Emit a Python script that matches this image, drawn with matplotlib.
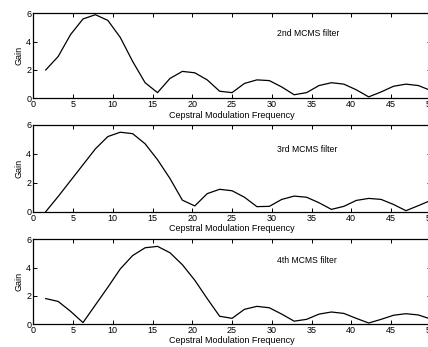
import numpy as np
import matplotlib
matplotlib.use("Agg")
import matplotlib.pyplot as plt

plt.rcParams['font.family'] = ['Liberation Sans', 'DejaVu Sans']

# cepstral modulation frequency bins (50/32 spacing)
freq = np.arange(1, 33) * 50.0 / 32

gain_2nd = [2.0, 2.95, 4.5, 5.6, 5.9, 5.5, 4.3, 2.6, 1.1, 0.4,
            1.4, 1.9, 1.8, 1.3, 0.5, 0.4, 1.05, 1.3, 1.25, 0.8,
            0.25, 0.4, 0.9, 1.1, 1.0, 0.6, 0.1, 0.45, 0.85, 1.0,
            0.9, 0.55]
gain_3rd = [0.0, 1.05, 2.15, 3.25, 4.35, 5.2, 5.5, 5.4, 4.7, 3.6,
            2.3, 0.8, 0.4, 1.25, 1.55, 1.45, 1.0, 0.35, 0.37, 0.85,
            1.08, 1.0, 0.62, 0.16, 0.37, 0.78, 0.92, 0.85, 0.5, 0.07,
            0.42, 0.78]
gain_4th = [1.8, 1.6, 0.9, 0.1, 1.35, 2.6, 3.9, 4.85, 5.4, 5.5,
            5.05, 4.2, 3.1, 1.8, 0.55, 0.4, 1.04, 1.25, 1.15, 0.7,
            0.2, 0.33, 0.7, 0.85, 0.75, 0.4, 0.07, 0.33, 0.62, 0.73,
            0.64, 0.35]

series = [gain_2nd, gain_3rd, gain_4th]
labels = ["2nd MCMS filter", "3rd MCMS filter", "4th MCMS filter"]
label_y = [4.6, 4.27, 4.53]

W, H = 428, 347
fig = plt.figure(figsize=(W / 100, H / 100), dpi=100)

# axes boxes in pixels: (top, bottom)
boxes = [(13.3, 98.3), (125.0, 211.7), (239.3, 324.0)]
left_px, right_px = 33.3, 430.8

for (top, bot), g, lab, ly in zip(boxes, series, labels, label_y):
    ax = fig.add_axes([left_px / W, 1 - bot / H, (right_px - left_px) / W, (bot - top) / H])
    ax.plot(freq, g, color='black', lw=0.9)
    ax.set_xlim(0, 50)
    ax.set_ylim(0, 6)
    ax.set_xticks(np.arange(0, 51, 5))
    ax.set_yticks([0, 2, 4, 6])
    ax.tick_params(direction='in', top=True, right=True, labelsize=6.5,
                   length=3, width=0.7, pad=1.5)
    for s in ax.spines.values():
        s.set_linewidth(0.9)
    ax.set_xlabel("Cepstral Modulation Frequency", fontsize=6.5, labelpad=1)
    ax.set_ylabel("Gain", fontsize=6.5, labelpad=2)
    ax.text(30.6, ly, lab, fontsize=6.2, va='center', ha='left')

fig.savefig("out.png", dpi=100)
